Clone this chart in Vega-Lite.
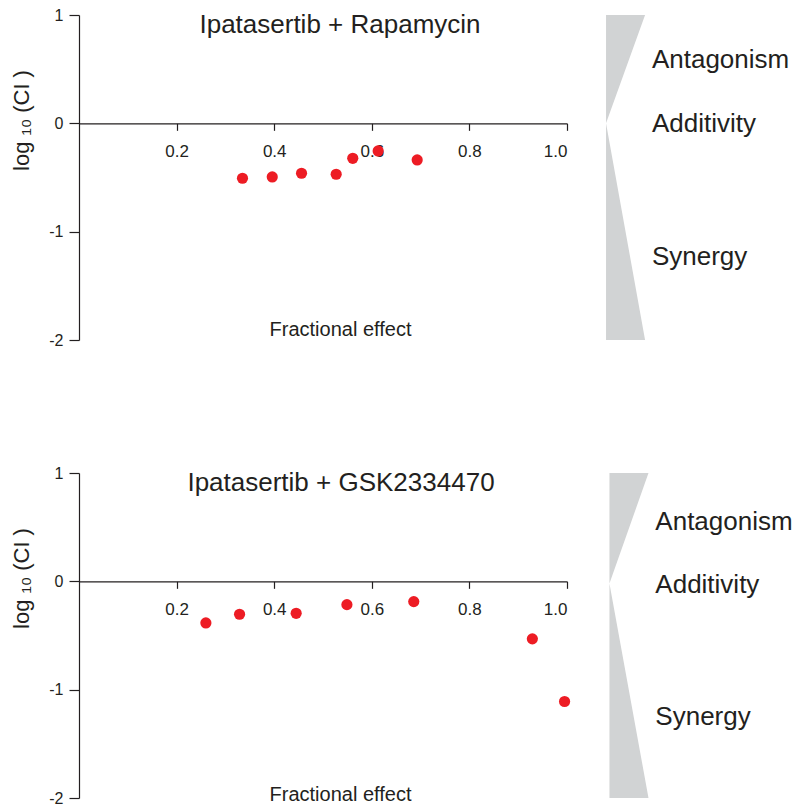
{
  "$schema": "https://vega.github.io/schema/vega-lite/v6.json",
  "background": "white",
  "padding": {"top": 7, "left": 10, "right": 0, "bottom": 0},
  "spacing": 117,
  "config": {
    "view": {"stroke": null},
    "font": "Liberation Sans",
    "axis": {
      "grid": false,
      "domainColor": "#231f20",
      "tickColor": "#231f20",
      "labelColor": "#231f20",
      "titleColor": "#231f20",
      "labelFont": "Liberation Sans",
      "titleFont": "Liberation Sans",
      "labelFontSize": 16,
      "titleFontWeight": "normal",
      "domainWidth": 1.2,
      "tickWidth": 1.2
    },
    "title": {"font": "Liberation Sans", "fontSize": 26, "fontWeight": "normal", "color": "#231f20"}
  },
  "datasets": {
    "points1": [
      {"x": 0.335, "y": -0.507},
      {"x": 0.396, "y": -0.495},
      {"x": 0.456, "y": -0.461},
      {"x": 0.527, "y": -0.470},
      {"x": 0.561, "y": -0.323},
      {"x": 0.613, "y": -0.255},
      {"x": 0.693, "y": -0.338}
    ],
    "points2": [
      {"x": 0.260, "y": -0.384},
      {"x": 0.329, "y": -0.304},
      {"x": 0.445, "y": -0.295},
      {"x": 0.549, "y": -0.215},
      {"x": 0.686, "y": -0.187},
      {"x": 0.929, "y": -0.531},
      {"x": 0.995, "y": -1.109}
    ],
    "shape1": [
      {"y": 1, "x": 1.160, "xl": 1.080},
      {"y": 0, "x": 1.080, "xl": 1.080},
      {"y": -2, "x": 1.160, "xl": 1.080}
    ],
    "shape2": [
      {"y": 1, "x": 1.167, "xl": 1.087},
      {"y": -0.02, "x": 1.087, "xl": 1.087},
      {"y": -2, "x": 1.167, "xl": 1.087}
    ],
    "labels1": [
      {"x": 1.174, "y": 0.508, "label": "Antagonism"},
      {"x": 1.174, "y": -0.077, "label": "Additivity"},
      {"x": 1.174, "y": -1.308, "label": "Synergy"}
    ],
    "labels2": [
      {"x": 1.181, "y": 0.477, "label": "Antagonism"},
      {"x": 1.181, "y": -0.107, "label": "Additivity"},
      {"x": 1.181, "y": -1.323, "label": "Synergy"}
    ]
  },
  "vconcat": [
    {
      "width": 488,
      "height": 325,
      "title": {"text": "Ipatasertib + Rapamycin", "anchor": "middle", "dx": 17, "offset": -52, "baseline": "alphabetic"},
      "encoding": {
        "x": {"field": "x", "type": "quantitative", "scale": {"domain": [0, 1], "nice": false, "zero": false},
          "axis": {"values": [0.2, 0.4, 0.6, 0.8, 1.0], "format": ".1f", "offset": -216.67, "tickSize": 7, "labelPadding": 13, "labelFontSize": 17,
            "title": "Fractional effect", "titleFontSize": 20, "titleX": 261, "titleY": 211.7, "titleBaseline": "alphabetic", "titleAlign": "center"}},
        "y": {"field": "y", "type": "quantitative", "scale": {"domain": [-2, 1], "nice": false, "zero": false},
          "axis": {"values": [-2, -1, 0, 1], "labelExpr": "'' + datum.value", "tickSize": 10, "labelPadding": 6,
            "title": "log ₁₀ (CI )", "titleFontSize": 22, "titleX": -51, "titleY": 105, "titleBaseline": "alphabetic", "titleAlign": "center", "titleAngle": 270}}
      },
      "layer": [
        {"data": {"name": "shape1"}, "mark": {"type": "area", "orient": "horizontal", "color": "#d1d3d4", "clip": false},
          "encoding": {"x2": {"field": "xl"}}},
        {"data": {"name": "points1"}, "mark": {"type": "circle", "color": "#ed1c24", "opacity": 1, "size": 125}},
        {"data": {"name": "labels1"}, "mark": {"type": "text", "align": "left", "baseline": "alphabetic", "fontSize": 26, "color": "#231f20", "font": "Liberation Sans"},
          "encoding": {"text": {"field": "label"}}}
      ]
    },
    {
      "width": 488,
      "height": 325,
      "title": {"text": "Ipatasertib + GSK2334470", "anchor": "middle", "dx": 18, "offset": -52, "baseline": "alphabetic"},
      "encoding": {
        "x": {"field": "x", "type": "quantitative", "scale": {"domain": [0, 1], "nice": false, "zero": false},
          "axis": {"values": [0.2, 0.4, 0.6, 0.8, 1.0], "format": ".1f", "offset": -216.67, "tickSize": 7, "labelPadding": 13, "labelFontSize": 17,
            "title": "Fractional effect", "titleFontSize": 20, "titleX": 261, "titleY": 219, "titleBaseline": "alphabetic", "titleAlign": "center"}},
        "y": {"field": "y", "type": "quantitative", "scale": {"domain": [-2, 1], "nice": false, "zero": false},
          "axis": {"values": [-2, -1, 0, 1], "labelExpr": "'' + datum.value", "tickSize": 10, "labelPadding": 6,
            "title": "log ₁₀ (CI )", "titleFontSize": 22, "titleX": -51, "titleY": 105, "titleBaseline": "alphabetic", "titleAlign": "center", "titleAngle": 270}}
      },
      "layer": [
        {"data": {"name": "shape2"}, "mark": {"type": "area", "orient": "horizontal", "color": "#d1d3d4", "clip": false},
          "encoding": {"x2": {"field": "xl"}}},
        {"data": {"name": "points2"}, "mark": {"type": "circle", "color": "#ed1c24", "opacity": 1, "size": 125}},
        {"data": {"name": "labels2"}, "mark": {"type": "text", "align": "left", "baseline": "alphabetic", "fontSize": 26, "color": "#231f20", "font": "Liberation Sans"},
          "encoding": {"text": {"field": "label"}}}
      ]
    }
  ]
}
